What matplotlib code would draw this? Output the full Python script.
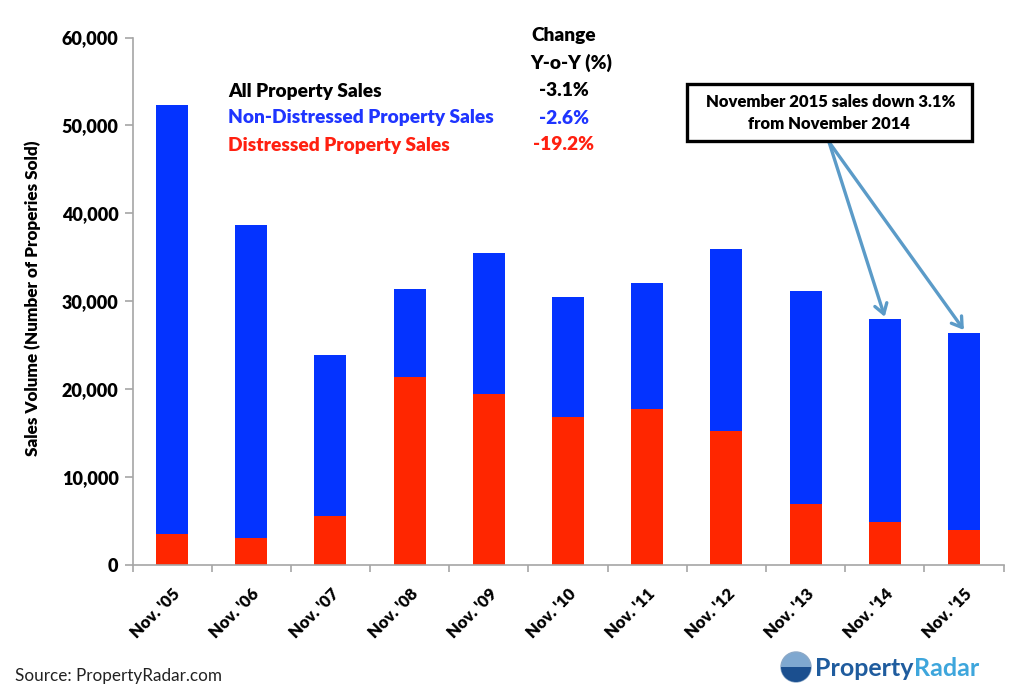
import matplotlib
matplotlib.use('Agg')
import matplotlib.pyplot as plt
from matplotlib.patches import Circle, Rectangle, Wedge

W, H = 1024, 697

# data
months = ["Nov. '05", "Nov. '06", "Nov. '07", "Nov. '08", "Nov. '09", "Nov. '10",
          "Nov. '11", "Nov. '12", "Nov. '13", "Nov. '14", "Nov. '15"]
distressed = [3500, 3000, 5500, 21300, 19400, 16800, 17700, 15200, 6900, 4800, 3900]
non_distressed = [48800, 35600, 18300, 10100, 16100, 13700, 14300, 20700, 24200, 23100, 22500]
y_ticks = [0, 10000, 20000, 30000, 40000, 50000, 60000]

table_names = ['All Property Sales', 'Non-Distressed Property Sales', 'Distressed Property Sales']
table_changes = ['-3.1%', '-2.6%', '-19.2%']
table_colors = ['black', '#1f35ff', '#ff2010']

BLUE = '#0433ff'
RED = '#ff2600'
GREY = '#a6a6a6'
ARROW = '#5b9bc8'
WEIGHT = 'heavy'

plt.rcParams['font.family'] = ['Lato', 'DejaVu Sans']

fig = plt.figure(figsize=(W / 100, H / 100), dpi=100)
ax = fig.add_axes([132.5 / W, 1 - 564.5 / H, (1003.5 - 132.5) / W, (564.5 - 37.5) / H])


# overlay in picture pixels, for the things that sit outside the data
def px(x, y):
    return x / W, 1 - y / H


x = [i + 0.5 for i in range(len(months))]
ax.bar(x, distressed, width=0.405, color=RED, zorder=2)
ax.bar(x, non_distressed, width=0.405, bottom=distressed, color=BLUE, zorder=2)

ax.set_xlim(0, 11)
ax.set_ylim(0, 60000)
ax.set_yticks(y_ticks)
ax.set_yticklabels([f'{v:,}' for v in y_ticks], fontsize=13, fontweight=WEIGHT)
ax.set_xticks(range(12))
ax.set_xticklabels([])
ax.set_xticks(x, minor=True)
ax.set_xticklabels(months, minor=True, rotation=45, ha='right', va='top',
                   rotation_mode='anchor', fontsize=12, fontweight=WEIGHT)
ax.tick_params(axis='x', which='minor', length=0, pad=15)
ax.tick_params(axis='x', which='major', length=5, width=1.2, color=GREY)
ax.tick_params(axis='y', length=6, width=1.2, color=GREY, pad=4)
ax.spines['top'].set_visible(False)
ax.spines['right'].set_visible(False)
ax.spines['left'].set_color(GREY)
ax.spines['bottom'].set_color(GREY)
ax.spines['left'].set_linewidth(1.2)
ax.spines['bottom'].set_linewidth(1.2)
ax.set_ylabel('Sales Volume (Number of Properies Sold)', fontsize=12.3, fontweight=WEIGHT,
              labelpad=15, y=0.505)

# change table
fig.text(*px(564, 36), 'Change', ha='center', va='center', fontsize=13.8, fontweight=WEIGHT)
fig.text(*px(571, 63), 'Y-o-Y (%)', ha='center', va='center', fontsize=13.8, fontweight=WEIGHT)
rows_y = [91, 118, 145]
for name, change, color, ry in zip(table_names, table_changes, table_colors, rows_y):
    fig.text(*px(228, ry), name, ha='left', va='center', fontsize=13.8, fontweight=WEIGHT, color=color)
    fig.text(*px(564, ry), change, ha='center', va='center', fontsize=13.8, fontweight=WEIGHT, color=color)

# callout arrows, from the box down to the last two bars
for i, total_y in zip([9, 10], [27900, 26400]):
    ax.annotate('', xy=(x[i], total_y + 300), xycoords='data',
                xytext=px(829, 142), textcoords='figure fraction',
                arrowprops=dict(arrowstyle='->,head_length=0.7,head_width=0.45',
                                color=ARROW, lw=2.4, shrinkA=0, shrinkB=0), zorder=3)

fig.add_artist(Rectangle(px(687, 141), 285 / W, 57 / H, transform=fig.transFigure,
                         facecolor='white', edgecolor='black', linewidth=2.4, zorder=5))
fig.text(*px(831, 102), 'November 2015 sales down 3.1%', ha='center', va='center',
         fontsize=12, fontweight=WEIGHT, zorder=6)
fig.text(*px(829, 124), 'from November 2014', ha='center', va='center',
         fontsize=12, fontweight=WEIGHT, zorder=6)

# source and logo
fig.text(*px(15, 676), 'Source: PropertyRadar.com', ha='left', va='center', fontsize=12.3, color='#222222')
fig.add_artist(Circle((796, H - 667), 15, transform=None, facecolor='#7fa8d0',
                      edgecolor='#8aa8c8', linewidth=1, zorder=5))
fig.add_artist(Wedge((796, H - 667), 15, 180, 360, transform=None, facecolor='#1b4f8f',
                     edgecolor='none', zorder=6))
logo_a = fig.text(*px(815, 668), 'Property', ha='left', va='center', fontsize=18,
                  fontweight='bold', color='#1f5c9e')
fig.canvas.draw()
bb = logo_a.get_window_extent()
fig.text(bb.x1 / W, 1 - 668 / H, 'Radar', ha='left', va='center', fontsize=18,
         fontweight='bold', color='#3ea6dc')

fig.savefig('out.png', dpi=100)
